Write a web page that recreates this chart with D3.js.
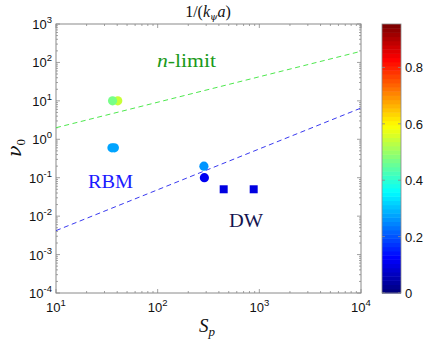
<!DOCTYPE html>
<html><head><meta charset="utf-8">
<script src="https://cdn.jsdelivr.net/npm/d3@7"></script>
<style>body{margin:0;background:#fff}svg{display:block}</style>
</head><body>
<script>
// ---- data ----
const circleS   = [40.5, 36, 35.5, 37.5, 285, 288];
const circleNu  = [10, 10, 0.6, 0.6, 0.2, 0.1];
const circleC   = [0.55, 0.47, 0.27, 0.27, 0.26, 0.11];
const squareS   = [446, 880];
const squareNu  = [0.05, 0.05];
const squareC   = [0.09, 0.09];
const nLimitS   = [10, 10000];
const nLimitNu  = [2.0, 195];
const rbmS      = [10, 10000];
const rbmNu     = [0.0042, 6.5];
const xTickExp  = [1, 2, 3, 4];
const yTickExp  = [-4, -3, -2, -1, 0, 1, 2, 3];
const cbTicks   = [0, 0.2, 0.4, 0.6, 0.8];
const cMax = 0.954;

const W = 428, H = 350;
const L = 56, R = 361, T = 24, B = 293;
const svg = d3.select("body").append("svg").attr("width", W).attr("height", H);

const x = d3.scaleLog().domain([10, 1e4]).range([L, R]);
const y = d3.scaleLog().domain([1e-4, 1e3]).range([B, T]);

function jet(t){
  t = Math.max(0, Math.min(1, t));
  const c = v => Math.max(0, Math.min(1, v));
  const r = c(1.5 - Math.abs(4*t - 3)), g = c(1.5 - Math.abs(4*t - 2)), b = c(1.5 - Math.abs(4*t - 1));
  return d3.rgb(r*255, g*255, b*255).toString();
}
const cScale = v => jet(Math.floor(v / cMax * 64) / 63);

const gray = "#8a8a8a";
// frame
svg.append("rect").attr("x", L).attr("y", T).attr("width", R-L).attr("height", B-T)
  .attr("fill", "none").attr("stroke", gray).attr("stroke-width", 1);

// ticks
const g = svg.append("g").attr("stroke", gray).attr("stroke-width", 0.8);
for (let e = 1; e <= 4; e++) {
  const xv = x(Math.pow(10, e));
  g.append("line").attr("x1", xv).attr("x2", xv).attr("y1", B).attr("y2", B-4);
  g.append("line").attr("x1", xv).attr("x2", xv).attr("y1", T).attr("y2", T+4);
  if (e < 4) for (let m = 2; m <= 9; m++) {
    const xm = x(m * Math.pow(10, e));
    g.append("line").attr("x1", xm).attr("x2", xm).attr("y1", B).attr("y2", B-2);
    g.append("line").attr("x1", xm).attr("x2", xm).attr("y1", T).attr("y2", T+2);
  }
}
for (let e = -4; e <= 3; e++) {
  const yv = y(Math.pow(10, e));
  g.append("line").attr("y1", yv).attr("y2", yv).attr("x1", L).attr("x2", L+4);
  g.append("line").attr("y1", yv).attr("y2", yv).attr("x1", R).attr("x2", R-4);
  if (e < 3) for (let m = 2; m <= 9; m++) {
    const ym = y(m * Math.pow(10, e));
    g.append("line").attr("y1", ym).attr("y2", ym).attr("x1", L).attr("x2", L+2);
    g.append("line").attr("y1", ym).attr("y2", ym).attr("x1", R).attr("x2", R-2);
  }
}

const sans = "Liberation Sans, Arial, sans-serif";
const serif = "Liberation Serif, Times New Roman, serif";
const greek = "DejaVu Serif, serif";
// x tick labels
xTickExp.forEach(e => {
  const t = svg.append("text").attr("x", x(Math.pow(10, e))).attr("y", 312)
    .attr("text-anchor", "middle").attr("font-family", sans).attr("font-size", 13).attr("fill", "#111");
  t.append("tspan").text("10");
  t.append("tspan").attr("dy", -6).attr("font-size", 9.5).text(e);
});
// y tick labels
yTickExp.forEach(e => {
  const t = svg.append("text").attr("x", 52).attr("y", y(Math.pow(10, e)) + 5)
    .attr("text-anchor", "end").attr("font-family", sans).attr("font-size", 13).attr("fill", "#111");
  t.append("tspan").text("10");
  t.append("tspan").attr("dy", -6).attr("font-size", 9.5).text(e);
});

// lines
const line = d3.line().x(d => x(d[0])).y(d => y(d[1]));
svg.append("path").attr("d", line(d3.zip(nLimitS, nLimitNu))).attr("fill", "none")
  .attr("stroke", "#4ee84e").attr("stroke-width", 1).attr("stroke-dasharray", "5,3.5");
svg.append("path").attr("d", line(d3.zip(rbmS, rbmNu))).attr("fill", "none")
  .attr("stroke", "#3a3af0").attr("stroke-width", 1).attr("stroke-dasharray", "5,3.5");

// points
d3.range(circleS.length).forEach(i => {
  svg.append("circle").attr("cx", x(circleS[i])).attr("cy", y(circleNu[i])).attr("r", 4.6)
    .attr("fill", cScale(circleC[i]));
});
d3.range(squareS.length).forEach(i => {
  svg.append("rect").attr("x", x(squareS[i]) - 4).attr("y", y(squareNu[i]) - 4)
    .attr("width", 8).attr("height", 8).attr("fill", cScale(squareC[i]));
});

// annotations
const nl = svg.append("text").attr("x", 157).attr("y", 67).attr("font-family", serif)
  .attr("font-size", 18).attr("fill", "#1a9a1a")
  .attr("textLength", 59).attr("lengthAdjust", "spacingAndGlyphs");
nl.append("tspan").attr("font-style", "italic").text("n");
nl.append("tspan").text("-limit");
svg.append("text").attr("x", 88).attr("y", 188).attr("font-family", serif)
  .attr("font-size", 18).attr("fill", "#1a1aff")
  .attr("textLength", 45).attr("lengthAdjust", "spacingAndGlyphs").text("RBM");
svg.append("text").attr("x", 229).attr("y", 227).attr("font-family", serif)
  .attr("font-size", 18).attr("fill", "#141450")
  .attr("textLength", 34).attr("lengthAdjust", "spacingAndGlyphs").text("DW");

// title
const tt = svg.append("text").attr("x", 208).attr("y", 17).attr("text-anchor", "middle")
  .attr("font-family", serif).attr("font-size", 16).attr("fill", "#111");
tt.append("tspan").text("1/(");
tt.append("tspan").attr("font-style", "italic").text("k");
tt.append("tspan").attr("font-family", greek).attr("font-style", "italic").attr("font-size", 9.5).attr("dy", 3).text("ψ");
tt.append("tspan").attr("font-style", "italic").attr("dy", -3).text("a");
tt.append("tspan").text(")");

// axis labels
const xl = svg.append("text").attr("x", 207).attr("y", 332).attr("text-anchor", "middle")
  .attr("font-family", serif).attr("font-size", 19).attr("fill", "#111");
xl.append("tspan").attr("font-style", "italic").text("S");
xl.append("tspan").attr("font-style", "italic").attr("font-size", 13).attr("dy", 4).text("p");
const yl = svg.append("text").attr("transform", "translate(21,148) rotate(-90)").attr("text-anchor", "middle")
  .attr("font-family", serif).attr("font-size", 19).attr("fill", "#111");
yl.append("tspan").attr("font-family", greek).attr("font-style", "italic").text("ν");
yl.append("tspan").attr("font-size", 13).attr("dy", 4).text("0");

// colorbar
const cbL = 382, cbR = 401, cbT = 24, cbB = 293;
const cy = d3.scaleLinear().domain([0, cMax]).range([cbB, cbT]);
const nSteps = 64;
d3.range(nSteps).forEach(k => {
  const v0 = k / nSteps * cMax, v1 = (k + 1) / nSteps * cMax;
  svg.append("rect").attr("x", cbL).attr("width", cbR - cbL)
    .attr("y", cy(v1)).attr("height", cy(v0) - cy(v1) + 0.5)
    .attr("fill", jet(k / (nSteps - 1)));
});
svg.append("rect").attr("x", cbL).attr("y", cbT).attr("width", cbR - cbL).attr("height", cbB - cbT)
  .attr("fill", "none").attr("stroke", gray).attr("stroke-width", 0.8);
cbTicks.forEach(v => {
  svg.append("line").attr("x1", cbR).attr("x2", cbR - 3).attr("y1", cy(v)).attr("y2", cy(v))
    .attr("stroke", gray).attr("stroke-width", 0.8);
  svg.append("line").attr("x1", cbL).attr("x2", cbL + 3).attr("y1", cy(v)).attr("y2", cy(v))
    .attr("stroke", gray).attr("stroke-width", 0.8);
  svg.append("text").attr("x", 405).attr("y", cy(v) + 5).attr("font-family", sans)
    .attr("font-size", 13).attr("fill", "#111").text(v === 0 ? "0" : v.toFixed(1));
});
</script>
</body></html>
